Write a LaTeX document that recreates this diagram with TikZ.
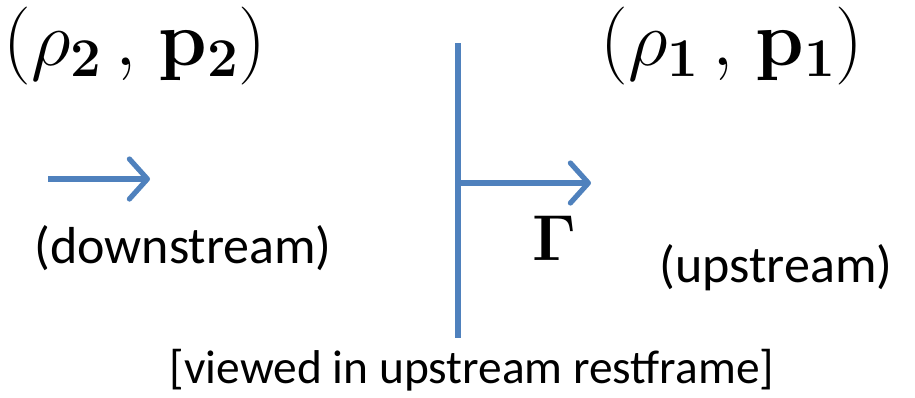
\RequirePackage{fix-cm}
\documentclass[tikz,border=0pt]{standalone}
\usepackage[no-math]{fontspec}
\newfontfamily\calibri{Carlito}
\usetikzlibrary{arrows.meta}
\definecolor{lineblue}{RGB}{79,129,189}
\tikzset{
  bluestroke/.style={draw=lineblue, line width=2.6pt},
  bluearrow/.style={bluestroke, -{Straight Barb[length=9pt, width=20pt, line cap=round, line join=round]}},
  mathlabel/.style={inner sep=0pt, anchor=base, font=\fontsize{39}{46}\selectfont},
  gammalabel/.style={inner sep=0pt, anchor=base, font=\fontsize{32.5}{38}\selectfont},
  sanslabel/.style={inner sep=0pt, anchor=base, font=\calibri\fontsize{26}{31}\selectfont},
  notelabel/.style={inner sep=0pt, anchor=base, font=\calibri\fontsize{23.7}{28}\selectfont}
}
\begin{document}
\begin{tikzpicture}[x=0.5pt, y=-0.5pt]
  \useasboundingbox (0,0) rectangle (915,397);
  % shock front
  \coordinate (top) at (458,43);
  \coordinate (bot) at (458,338);
  \coordinate (mid) at (458,183);
  \coordinate (gtip) at (591,183);
  \draw[bluestroke] (top) -- (bot);
  \draw[bluearrow] (mid) -- (gtip);
  % downstream flow arrow
  \coordinate (lstart) at (48,179);
  \coordinate (lend) at (150,179);
  \draw[bluearrow] (lstart) -- (lend);
  % labels
  \node[mathlabel] (state2) at (135,65) {$(\rho_{\mathbf{2}}\mkern3mu,\mkern2mu \mathbf{p_2})$};
  \node[mathlabel] (state1) at (732,65) {$(\rho_{\mathbf{1}}\mkern3mu,\mkern2mu \mathbf{p_1})$};
  \node[gammalabel] (gamma) at (554,260) {$\mathbf{\Gamma}$};
  \node[sanslabel] (down) at (183,263) {(downstream)};
  \node[sanslabel] (up) at (776,282) {(upstream)};
  \node[notelabel] (note) at (472,383) {[viewed in upstream restframe]};
\end{tikzpicture}
\end{document}
